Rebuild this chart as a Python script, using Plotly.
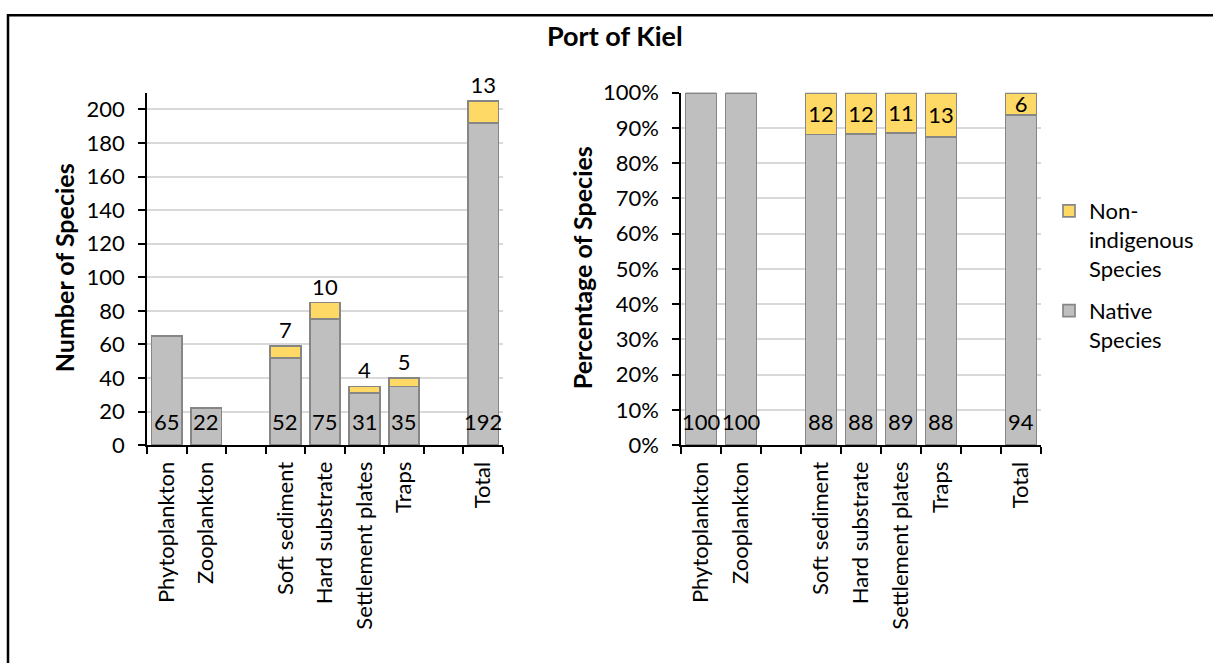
import plotly.graph_objects as go

# Sampling groups per survey method, with blank slots separating the groups
categories = ["Phytoplankton", "Zooplankton", " ", "Soft sediment", "Hard substrate",
              "Settlement plates", "Traps", "  ", "Total"]

# Species counts
native_counts = [65, 22, None, 52, 75, 31, 35, None, 192]
nis_counts = [0, 0, None, 7, 10, 4, 5, None, 13]

# Share of species (%)
native_pct = [100, 100, None, 88.1, 88.2, 88.6, 87.5, None, 93.7]
nis_pct = [0, 0, None, 11.9, 11.8, 11.4, 12.5, None, 6.3]

pct_ticks = [0, 10, 20, 30, 40, 50, 60, 70, 80, 90, 100]

W, H = 1213, 663
FONT = "Lato"
GREY_FILL = "#BFBFBF"
GOLD_FILL = "#FFD966"
EDGE = "#868686"
GRID = "#D9D9D9"
TICK_SIZE = 22


def px_x(p):
    return p / W


def px_y(p):
    return 1 - p / H


def label_templates(values):
    # no label for empty slots or zero-height segments
    return ["" if not v else "%{y:.0f}" for v in values]


bar_text = dict(family=FONT, size=TICK_SIZE, color="black")
bar_line = dict(color=EDGE, width=1.7)

fig = go.Figure()

# Left panel: absolute numbers
fig.add_trace(go.Bar(
    x=categories, y=native_counts, name="Native<br>Species",
    marker=dict(color=GREY_FILL, line=bar_line),
    xaxis="x", yaxis="y", showlegend=False,
))
fig.add_trace(go.Bar(
    x=categories, y=nis_counts, name="Non-<br>indigenous<br>Species",
    marker=dict(color=GOLD_FILL, line=bar_line),
    texttemplate=label_templates(nis_counts),
    textposition="outside", cliponaxis=False, textangle=0,
    textfont=bar_text, xaxis="x", yaxis="y", showlegend=False,
))

# Right panel: percentages
fig.add_trace(go.Bar(
    x=categories, y=native_pct, name="Native<br>Species",
    marker=dict(color=GREY_FILL, line=bar_line),
    xaxis="x2", yaxis="y2", legendgroup="native", legendrank=2,
))
fig.add_trace(go.Bar(
    x=categories, y=nis_pct, name="Non-<br>indigenous<br>Species",
    marker=dict(color=GOLD_FILL, line=bar_line),
    texttemplate=label_templates(nis_pct),
    textposition="inside", insidetextanchor="middle", textangle=0,
    textfont=bar_text, xaxis="x2", yaxis="y2", legendgroup="nis", legendrank=1,
))

# Native values written just above the base of each bar
base_labels = []
for xref, yref, values in (("x", "y", native_counts), ("x2", "y2", native_pct)):
    for cat, v in zip(categories, values):
        if v is None:
            continue
        base_labels.append(dict(
            x=cat, y=0, xref=xref, yref=yref, text=f"{v:.0f}",
            xanchor="center", yanchor="middle", yshift=24, showarrow=False,
            font=dict(family=FONT, size=TICK_SIZE, color="black"),
        ))

xaxis_common = dict(
    type="category", categoryorder="array", categoryarray=categories,
    tickson="boundaries", ticks="outside", ticklen=7, tickwidth=1.5, tickcolor="black",
    showline=True, linecolor="black", linewidth=1.5, showgrid=False,
    tickangle=-90, tickfont=dict(family=FONT, size=TICK_SIZE, color="black"),
    ticklabelstandoff=6, range=[-0.5, 8.5], fixedrange=True,
)
yaxis_common = dict(
    ticks="outside", ticklen=7, tickwidth=1.5, tickcolor="black",
    showline=True, linecolor="black", linewidth=1.5,
    showgrid=True, gridcolor=GRID, gridwidth=1.5, zeroline=False,
    tickfont=dict(family=FONT, size=TICK_SIZE, color="black"),
    ticklabelstandoff=9,
)

y_dom = [px_y(449.5), px_y(82)]

fig.update_layout(
    width=W, height=H,
    margin=dict(l=0, r=0, t=0, b=0),
    paper_bgcolor="white", plot_bgcolor="white",
    barmode="stack", bargap=0.23,
    uniformtext=dict(mode="show", minsize=TICK_SIZE),
    font=dict(family=FONT, color="black"),
    xaxis=dict(xaxis_common, domain=[px_x(147), px_x(503)], anchor="y"),
    yaxis=dict(yaxis_common, domain=y_dom, range=[0, 210], dtick=20, anchor="x"),
    xaxis2=dict(xaxis_common, domain=[px_x(681), px_x(1041)], anchor="y2"),
    yaxis2=dict(yaxis_common, domain=y_dom, range=[0, 100],
                tickvals=pct_ticks, ticktext=[f"{t}%" for t in pct_ticks], anchor="x2"),
    legend=dict(
        x=px_x(1049), y=px_y(183.5), xanchor="left", yanchor="top",
        traceorder="grouped", valign="top", tracegroupgap=11,
        font=dict(family=FONT, size=TICK_SIZE, color="black"),
        bgcolor="rgba(0,0,0,0)",
    ),
    shapes=[dict(
        type="path", xref="paper", yref="paper",
        path=f"M {px_x(8)} -0.05 L {px_x(8)} {px_y(1.3)} L 1.05 {px_y(1.3)}",
        line=dict(color="black", width=2.5),
    )],
    annotations=[
        dict(text="<b>Port of Kiel</b>", xref="paper", yref="paper",
             x=px_x(615), y=px_y(22.5), xanchor="center", yanchor="middle",
             showarrow=False, font=dict(family=FONT, size=27, color="black")),
        dict(text="<b>Number of Species</b>", xref="paper", yref="paper",
             x=px_x(64), y=px_y(265), xanchor="center", yanchor="middle", textangle=-90,
             showarrow=False, font=dict(family=FONT, size=25, color="black")),
        dict(text="<b>Percentage of Species</b>", xref="paper", yref="paper",
             x=px_x(582), y=px_y(265), xanchor="center", yanchor="middle", textangle=-90,
             showarrow=False, font=dict(family=FONT, size=25, color="black")),
    ] + base_labels,
)

fig.write_html("out.html")
